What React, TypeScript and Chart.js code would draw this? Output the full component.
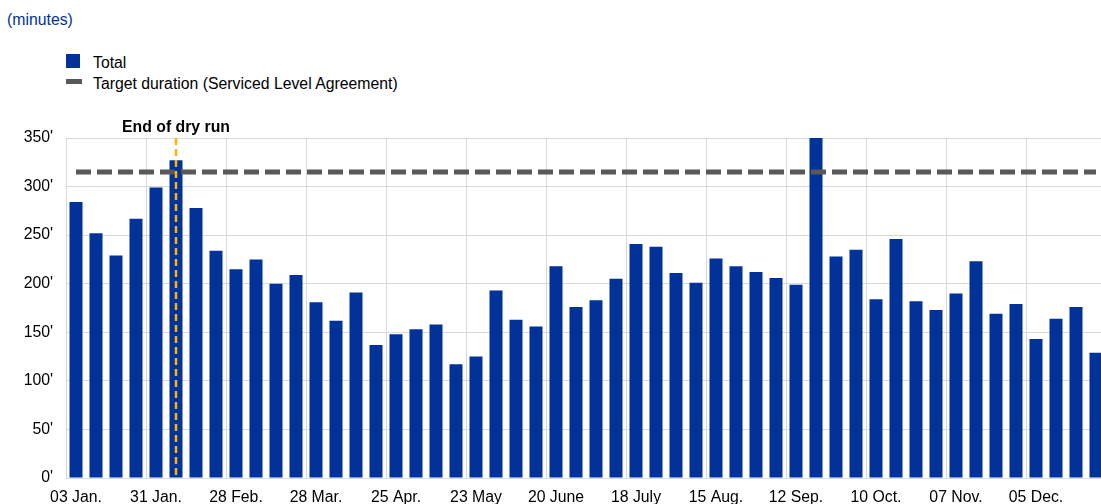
import React, { useEffect, useRef } from "react";
import { Chart, registerables } from "chart.js";

Chart.register(...registerables);

const weeks: string[] = [
  "03 Jan.", "10 Jan.", "17 Jan.", "24 Jan.", "31 Jan.",
  "07 Feb.", "14 Feb.", "21 Feb.", "28 Feb.",
  "07 Mar.", "14 Mar.", "21 Mar.", "28 Mar.",
  "04 Apr.", "11 Apr.", "18 Apr.", "25 Apr.",
  "02 May", "09 May", "16 May", "23 May", "30 May",
  "06 June", "13 June", "20 June", "27 June",
  "04 July", "11 July", "18 July", "25 July",
  "01 Aug.", "08 Aug.", "15 Aug.", "22 Aug.", "29 Aug.",
  "05 Sep.", "12 Sep.", "19 Sep.", "26 Sep.",
  "03 Oct.", "10 Oct.", "17 Oct.", "24 Oct.", "31 Oct.",
  "07 Nov.", "14 Nov.", "21 Nov.", "28 Nov.",
  "05 Dec.", "12 Dec.", "19 Dec.", "26 Dec.",
];

const totalMinutes: number[] = [
  284, 252, 229, 267, 299, 327, 278, 234, 215, 225, 200, 209, 181,
  162, 191, 137, 148, 153, 158, 117, 125, 193, 163, 156, 218, 176,
  183, 205, 241, 238, 211, 201, 226, 218, 212, 206, 199, 360, 228,
  235, 184, 246, 182, 173, 190, 223, 169, 179, 143, 164, 176, 129,
];

const targetMinutes: number[] = [
  315, 315, 315, 315, 315, 315, 315, 315, 315, 315, 315, 315, 315,
  315, 315, 315, 315, 315, 315, 315, 315, 315, 315, 315, 315, 315,
  315, 315, 315, 315, 315, 315, 315, 315, 315, 315, 315, 315, 315,
  315, 315, 315, 315, 315, 315, 315, 315, 315, 315, 315, 315, 315,
];

const yTicks: number[] = [0, 50, 100, 150, 200, 250, 300, 350];
const dryRunLabel = "07 Feb.";
const dryRunText = "End of dry run";

const FONT = '"Liberation Sans", Arial, sans-serif';
const FS = 15.8;
const BLUE = "#003299";
const GREY = "#595959";
const GRID = "#d9d9d9";

const dryRunPlugin = {
  id: "dryRun",
  afterDatasetsDraw(chart: any) {
    const { ctx, chartArea, scales } = chart;
    const idx = weeks.indexOf(dryRunLabel);
    const x = Math.round(scales.x.getPixelForValue(idx));
    ctx.save();
    ctx.strokeStyle = "#ffb400";
    ctx.lineWidth = 2.5;
    ctx.setLineDash([7, 4]);
    ctx.beginPath();
    ctx.moveTo(x, chartArea.top);
    ctx.lineTo(x, chartArea.bottom);
    ctx.stroke();
    ctx.setLineDash([]);
    ctx.fillStyle = "#000";
    ctx.font = `bold ${FS}px ${FONT}`;
    ctx.textAlign = "center";
    ctx.textBaseline = "middle";
    ctx.fillText(dryRunText, x, chartArea.top - 10);
    ctx.restore();
  },
};

export default function App() {
  const ref = useRef<HTMLCanvasElement>(null);

  useEffect(() => {
    if (!ref.current) return;
    const chart = new Chart(ref.current, {
      type: "bar",
      data: {
        labels: weeks,
        datasets: [
          {
            type: "line",
            label: "Target duration (Serviced Level Agreement)",
            data: targetMinutes,
            borderColor: GREY,
            backgroundColor: GREY,
            borderWidth: 5,
            borderDash: [15, 6],
            pointRadius: 0,
            order: 0,
          } as any,
          {
            type: "bar",
            label: "Total",
            data: totalMinutes,
            backgroundColor: BLUE,
            borderWidth: 0,
            barPercentage: 0.65,
            categoryPercentage: 1,
            order: 1,
          },
        ],
      },
      options: {
        responsive: false,
        animation: false,
        layout: { padding: { top: 138, left: 0, right: 0, bottom: 0 } },
        plugins: {
          legend: { display: false },
          tooltip: { enabled: false },
          title: { display: false },
        },
        scales: {
          x: {
            offset: true,
            grid: {
              offset: true,
              drawTicks: false,
              color: (c: any) => (c.index % 4 === 0 ? GRID : "rgba(0,0,0,0)"),
              lineWidth: 1,
            },
            border: { display: true, color: GRID },
            ticks: {
              autoSkip: false,
              maxRotation: 0,
              minRotation: 0,
              padding: 10,
              color: "#000",
              font: { family: FONT, size: FS },
              callback: (_v: any, i: number) => (i % 4 === 0 ? weeks[i] : ""),
            },
            afterFit: (s: any) => {
              s.height = 26;
            },
          },
          y: {
            min: 0,
            max: 350,
            grid: { color: GRID, drawTicks: false },
            border: { display: false },
            afterBuildTicks: (s: any) => {
              s.ticks = yTicks.map((v) => ({ value: v }));
            },
            ticks: {
              padding: 13,
              color: "#000",
              font: { family: FONT, size: FS },
              callback: (v: any) => `${v}'`,
            },
            afterFit: (s: any) => {
              s.width = 66;
            },
          },
        },
      },
      plugins: [dryRunPlugin],
    });
    return () => chart.destroy();
  }, []);

  const textStyle: React.CSSProperties = {
    position: "absolute",
    fontFamily: FONT,
    fontSize: FS,
    lineHeight: "18px",
    color: "#000",
    whiteSpace: "nowrap",
  };

  return (
    <div
      style={{
        position: "fixed",
        left: 0,
        top: 0,
        width: 1101,
        height: 504,
        overflow: "hidden",
        background: "#fff",
      }}
    >
      <div style={{ ...textStyle, left: 7, top: 11, color: BLUE }}>(minutes)</div>
      <div
        style={{
          position: "absolute",
          left: 66,
          top: 54,
          width: 14,
          height: 14,
          background: BLUE,
        }}
      />
      <div style={{ ...textStyle, left: 93, top: 54 }}>Total</div>
      <div
        style={{
          position: "absolute",
          left: 66,
          top: 79,
          width: 16,
          height: 5,
          background: GREY,
        }}
      />
      <div style={{ ...textStyle, left: 93, top: 75 }}>
        Target duration (Serviced Level Agreement)
      </div>
      <canvas
        ref={ref}
        width={1106}
        height={504}
        style={{ position: "absolute", left: 0, top: 0, width: 1106, height: 504 }}
      />
    </div>
  );
}
